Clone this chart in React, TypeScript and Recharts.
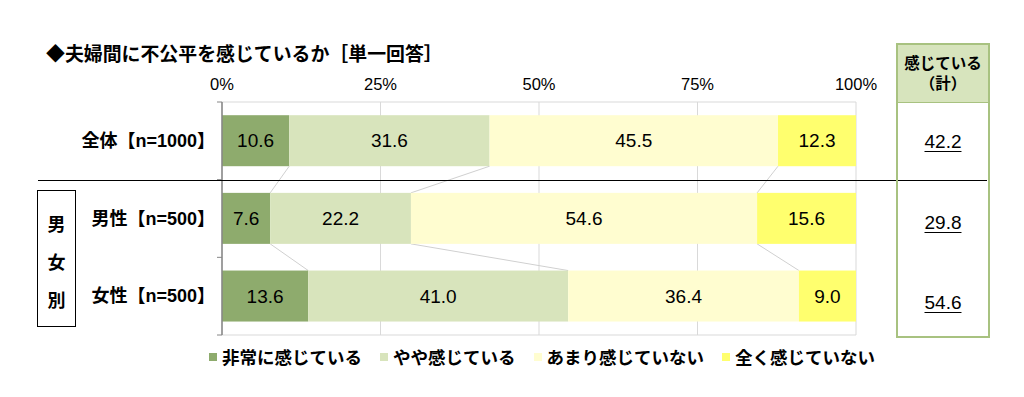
import { BarChart, Bar, XAxis, YAxis, CartesianGrid, LabelList, Legend } from 'recharts'

const categories = ['全体【n=1000】', '男性【n=500】', '女性【n=500】']
const veryMuch = [10.6, 7.6, 13.6]
const somewhat = [31.6, 22.2, 41.0]
const notMuch = [45.5, 54.6, 36.4]
const notAtAll = [12.3, 15.6, 9.0]
const seriesNames = ['非常に感じている', 'やや感じている', 'あまり感じていない', '全く感じていない']
const seriesKeys = ['veryMuch', 'somewhat', 'notMuch', 'notAtAll']
const xTicks = [0, 25, 50, 75, 100]
const COLORS = ['#8EAB6D', '#D8E4BC', '#FFFDD0', '#FFFF6E']

const series = [veryMuch, somewhat, notMuch, notAtAll]

const data = categories.map((name, i) => ({
  name,
  veryMuch: veryMuch[i],
  somewhat: somewhat[i],
  notMuch: notMuch[i],
  notAtAll: notAtAll[i],
}))

// "感じている（計）" column
const totals = categories.map((_, i) => (veryMuch[i] + somewhat[i]).toFixed(1))

const W = 1024
const H = 397
const PLOT_LEFT = 222
const PLOT_RIGHT = 856
const PLOT_TOP = 102
const PLOT_BOTTOM = 335
const BAND = (PLOT_BOTTOM - PLOT_TOP) / categories.length
const FONT = '"Liberation Sans", "Noto Sans CJK JP", sans-serif'
const JP = '"Noto Sans CJK JP", sans-serif'

// bar + Excel-like series line to the next row's bar
const makeShape = (k: number) => (props: any) => {
  const { x, y, width, height, fill, payload } = props
  const row = categories.indexOf(payload.name)
  const unit = width / series[k][row]
  const cumBefore = series.slice(0, k).reduce((s, a) => s + a[row], 0)
  const x0 = x - cumBefore * unit
  let line = null
  if (row < categories.length - 1 && k < series.length - 1) {
    const cumThis = cumBefore + series[k][row]
    const cumNext = series.slice(0, k + 1).reduce((s, a) => s + a[row + 1], 0)
    line = (
      <line
        x1={x0 + cumThis * unit}
        y1={y + height}
        x2={x0 + cumNext * unit}
        y2={y + height + (BAND - height)}
        stroke="#D0D0D0"
        strokeWidth={1}
      />
    )
  }
  return (
    <g>
      <rect x={x} y={y} width={width} height={height} fill={fill} />
      {line}
    </g>
  )
}

const CategoryTick = (props: any) => {
  const { x, y, payload, index } = props
  return (
    <g>
      <text x={x} y={y} dy={6} textAnchor="end" fontSize={18} fontWeight="bold" fontFamily={FONT} fill="#000">
        {payload.value}
      </text>
      <line x1={PLOT_LEFT - 5} x2={PLOT_LEFT} y1={y - BAND / 2} y2={y - BAND / 2} stroke="#868686" />
      {index === categories.length - 1 && (
        <line x1={PLOT_LEFT - 5} x2={PLOT_LEFT} y1={y + BAND / 2} y2={y + BAND / 2} stroke="#868686" />
      )}
    </g>
  )
}

const LegendContent = (props: any) => {
  const payload = props.payload || []
  return (
    <div style={{ display: 'flex', alignItems: 'center', fontFamily: JP, fontWeight: 'bold', fontSize: 17.5 }}>
      {payload.map((p: any, i: number) => (
        <div key={i} style={{ display: 'flex', alignItems: 'center', marginRight: 18 }}>
          <span style={{ width: 8, height: 8, background: p.color, marginRight: 5, display: 'inline-block' }} />
          <span>{p.value}</span>
        </div>
      ))}
    </div>
  )
}

export default function App() {
  return (
    <div style={{ position: 'absolute', left: 0, top: 0, width: W, height: H, background: '#fff' }}>
      <div
        style={{
          position: 'absolute',
          left: 46,
          top: 41,
          fontFamily: JP,
          fontWeight: 'bold',
          fontSize: 18.9,
          lineHeight: '24px',
          whiteSpace: 'nowrap',
        }}
      >
        ◆夫婦間に不公平を感じているか［単一回答］
      </div>

      <BarChart
        width={W}
        height={H}
        data={data}
        layout="vertical"
        barCategoryGap="17%"
        margin={{ top: PLOT_TOP - 30, right: W - PLOT_RIGHT, bottom: H - PLOT_BOTTOM, left: PLOT_LEFT - 200 }}
      >
        <CartesianGrid
          stroke="#D9D9D9"
          horizontalCoordinatesGenerator={(p: any) => [p.offset.top, p.offset.top + p.offset.height]}
        />
        <XAxis
          type="number"
          orientation="top"
          domain={[0, 100]}
          ticks={xTicks}
          height={30}
          axisLine={false}
          tickLine={false}
          tickMargin={6}
          tickFormatter={(v: number) => `${v}%`}
          tick={{ fontSize: 16.5, fontFamily: FONT, fill: '#000' }}
        />
        <YAxis
          type="category"
          dataKey="name"
          width={200}
          axisLine={{ stroke: '#868686', strokeWidth: 1.5 }}
          tickLine={false}
          tickMargin={1}
          tick={<CategoryTick />}
        />
        <Legend
          verticalAlign="middle"
          align="center"
          layout="horizontal"
          itemSorter={(item: any) => seriesNames.indexOf(item.value)}
          wrapperStyle={{ top: 344, left: 209, width: 700 }}
          content={<LegendContent />}
        />
        {seriesKeys.map((key, k) => (
          <Bar
            key={key}
            dataKey={key}
            name={seriesNames[k]}
            stackId="a"
            fill={COLORS[k]}
            isAnimationActive={false}
            shape={makeShape(k)}
          >
            <LabelList
              dataKey={key}
              position="center"
              formatter={(v: any) => Number(v).toFixed(1)}
              style={{ fontSize: 19, fontFamily: FONT, fill: '#000' }}
            />
          </Bar>
        ))}
      </BarChart>

      {/* divider between total and gender rows */}
      <div style={{ position: 'absolute', left: 38, top: 180, width: 949, height: 0, borderTop: '1.5px solid #000' }} />

      {/* 男女別 box */}
      <div
        style={{
          position: 'absolute',
          left: 37,
          top: 190,
          width: 37,
          height: 131,
          border: '1.5px solid #000',
          fontFamily: JP,
          fontWeight: 'bold',
          fontSize: 18,
          display: 'flex',
          flexDirection: 'column',
          alignItems: 'center',
          justifyContent: 'center',
          lineHeight: '38px',
          paddingTop: 4,
          boxSizing: 'content-box',
        }}
      >
        <span>男</span>
        <span>女</span>
        <span>別</span>
      </div>

      {/* 感じている（計） column */}
      <div
        style={{
          position: 'absolute',
          left: 896,
          top: 43,
          width: 90,
          height: 291,
          border: '2px solid #A8C280',
        }}
      >
        <div
          style={{
            height: 58,
            background: '#D7E4BD',
            borderBottom: '1.5px solid #A8C280',
            fontFamily: JP,
            fontWeight: 'bold',
            fontSize: 15.5,
            textAlign: 'center',
            lineHeight: '20px',
            paddingTop: 7,
            boxSizing: 'border-box',
          }}
        >
          <div>感じている</div>
          <div>（計）</div>
        </div>
      </div>
      {totals.map((t, i) => (
        <div
          key={i}
          style={{
            position: 'absolute',
            left: 896,
            width: 94,
            top: PLOT_TOP + BAND * (i + 0.5) - 11 + i * 3,
            textAlign: 'center',
            fontFamily: FONT,
            fontSize: 19,
            lineHeight: '24px',
            textDecoration: 'underline',
            textUnderlineOffset: 3,
          }}
        >
          {t}
        </div>
      ))}
    </div>
  )
}
